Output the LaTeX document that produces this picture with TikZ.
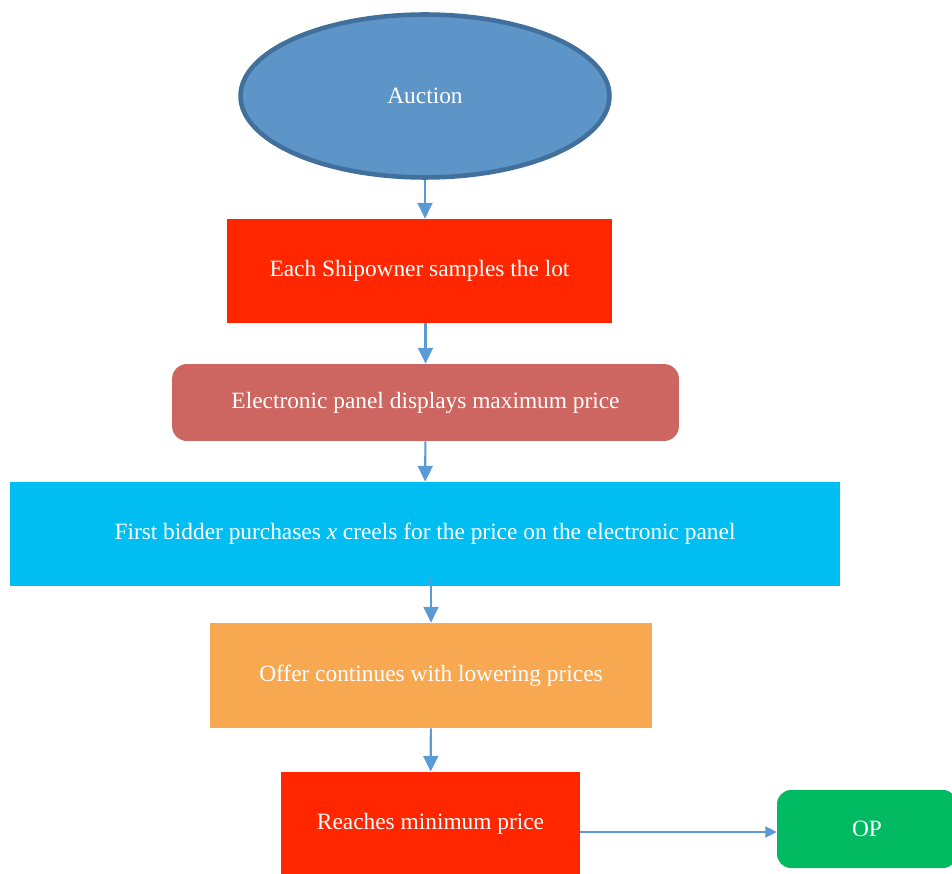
\documentclass[tikz,border=0pt]{standalone}
\usepackage{fontspec}
\setmainfont{Liberation Serif}
\usepackage{tikz}
\usetikzlibrary{arrows.meta,shapes.geometric}
\usetikzlibrary{positioning}
\definecolor{auctionblue}{HTML}{5E95C8}
\definecolor{auctionedge}{HTML}{41709C}
\definecolor{arrowblue}{HTML}{5B9BD5}
\definecolor{boxred}{HTML}{FF2600}
\definecolor{panelred}{HTML}{CD6660}
\definecolor{bidcyan}{HTML}{00BEF2}
\definecolor{offerorange}{HTML}{F9A852}
\definecolor{opgreen}{HTML}{00B960}
\tikzset{
    stage/.style={
           rectangle,
           inner sep=0pt,
           text=white,
           font=\fontsize{13.3}{16}\selectfont,
           text centered,
           },
    flow/.style={
           color=arrowblue,
           line width=1.2pt,
           -{Triangle[length=9pt,width=8.5pt]},
           },
}

\begin{document}
\begin{tikzpicture}[x=0.02cm,y=-0.02cm]
 \useasboundingbox (0,0) rectangle (952,874);

 % start: the auction itself
 \node[ellipse,
  fill=auctionblue,
  draw=auctionedge, line width=2.6pt,
  minimum width=7.38cm,
  minimum height=3.26cm,
  text=white,
  font=\fontsize{13.3}{16}\selectfont] (AUCTION) at (425,96)
 {Auction};

 \node[stage,    	% layout (defined above)
  fill=boxred,
  minimum width=7.7cm,
  minimum height=2.08cm] (SAMPLE) at (419.5,271)
 {Each Shipowner samples the lot};

 \node[stage,
  fill=panelred,
  rounded corners=0.3cm,
  minimum width=10.14cm,
  minimum height=1.54cm] (PANEL) at (425.5,402.5)
 {Electronic panel displays maximum price};

 % widest box
 \node[stage,
  fill=bidcyan,
  minimum width=16.6cm,
  minimum height=2.08cm] (BID) at (425,534)
 {First bidder purchases \textit{x} creels for the price on the electronic panel};

 \node[stage,
  fill=offerorange,
  minimum width=8.84cm,
  minimum height=2.1cm] (OFFER) at (431,675.5)
 {Offer continues with lowering prices};

 \node[stage,
  fill=boxred,
  minimum width=5.98cm,
  minimum height=2.08cm] (MINPRICE) at (430.5,824)
 {Reaches minimum price};

 % end state, cut by the right border
 \node[stage,
  fill=opgreen,
  rounded corners=0.28cm,
  minimum width=3.6cm,
  minimum height=1.56cm] (OP) at (867,829)
 {OP};

 % loose ends of two connectors
 \coordinate (BIDOUT) at (431,578);
 \coordinate (MINOUT) at (580,832);

 % connectors between the stages
 \draw[flow] (AUCTION) -- (AUCTION |- SAMPLE.north);
 \draw[flow] (PANEL.north |- SAMPLE.south) -- (PANEL);
 \draw[flow] (PANEL) -- (BID);
 \draw[flow] (BIDOUT) -- (BIDOUT |- OFFER.north);
 \draw[flow] (OFFER) -- (MINPRICE);
 \draw[flow, line width=0.6pt, -{Triangle[length=6.5pt,width=6.5pt]}] (MINOUT) -- (MINOUT -| OP.west);
\end{tikzpicture}
\end{document}
